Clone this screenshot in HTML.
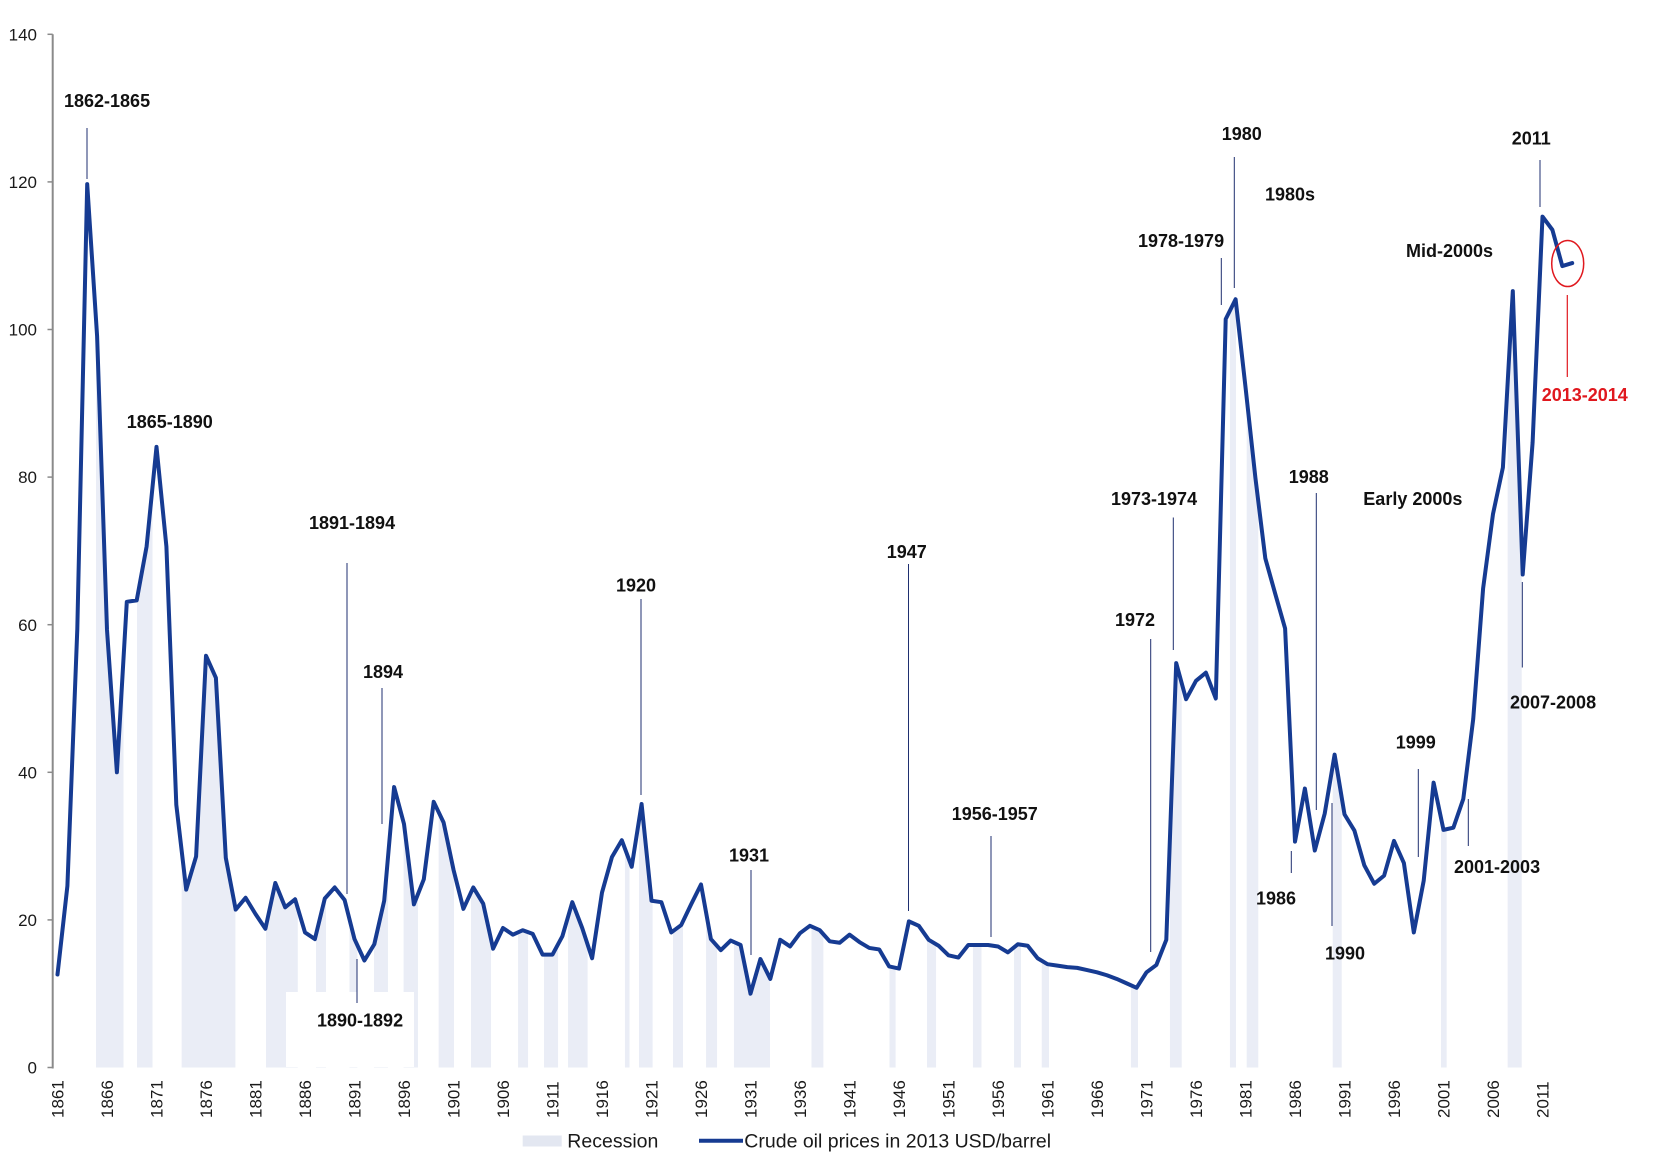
<!DOCTYPE html>
<html>
<head>
<meta charset="utf-8">
<style>
html,body{margin:0;padding:0;background:#fff;}
svg{display:block;}
text{font-family:"Liberation Sans",Arial,sans-serif;}
.ann{font-size:18px;font-weight:bold;fill:#111;}
.tk{font-size:17px;fill:#1a1a1a;}
.lg{font-size:19.5px;fill:#1a1a1a;}
.ld{stroke:#1f2f70;stroke-width:1;}
</style>
</head>
<body>
<svg width="1653" height="1162" viewBox="0 0 1653 1162" xmlns="http://www.w3.org/2000/svg">
<rect x="0" y="0" width="1653" height="1162" fill="#fff"/>

<g transform="translate(57.5,1067.5) scale(9.9,-7.38)">
<defs>
<clipPath id="area" clipPathUnits="userSpaceOnUse">
<polygon points="0,0 0,12.6 1,24.6 2,59.4 3,119.7 4,99.1 5,59.3 6,40.0 7,63.1 8,63.3 9,70.6 10,84.1 11,70.6 12,35.6 13,24.1 14,28.6 15,55.8 16,52.8 17,28.4 18,21.4 19,23.0 20,20.8 21,18.8 22,25.0 23,21.7 24,22.8 25,18.3 26,17.4 27,22.9 28,24.4 29,22.7 30,17.4 31,14.5 32,16.7 33,22.6 34,38.0 35,33.0 36,22.1 37,25.5 38,36.0 39,33.2 40,26.8 41,21.5 42,24.4 43,22.2 44,16.1 45,18.9 46,18.0 47,18.6 48,18.1 49,15.3 50,15.3 51,17.8 52,22.4 53,18.9 54,14.8 55,23.7 56,28.5 57,30.8 58,27.2 59,35.7 60,22.6 61,22.4 62,18.3 63,19.3 64,22.1 65,24.8 66,17.4 67,15.9 68,17.2 69,16.6 70,10.0 71,14.7 72,12.0 73,17.3 74,16.4 75,18.2 76,19.2 77,18.6 78,17.1 79,16.9 80,18.0 81,17.0 82,16.2 83,16.0 84,13.7 85,13.4 86,19.8 87,19.2 88,17.3 89,16.5 90,15.2 91,14.9 92,16.6 93,16.6 94,16.6 95,16.4 96,15.6 97,16.7 98,16.5 99,14.8 100,14.0 101,13.8 102,13.6 103,13.5 104,13.2 105,12.9 106,12.5 107,12.0 108,11.4 109,10.8 110,12.9 111,13.9 112,17.3 113,54.8 114,49.9 115,52.4 116,53.5 117,50.0 118,101.4 119,104.1 120,92.2 121,79.9 122,69.0 123,64.2 124,59.5 125,30.6 126,37.8 127,29.4 128,34.4 129,42.4 130,34.3 131,32.1 132,27.4 133,24.9 134,26.0 135,30.7 136,27.7 137,18.3 138,25.3 139,38.6 140,32.2 141,32.5 142,36.4 143,47.2 144,64.9 145,75.0 146,81.3 147,105.2 148,66.8 149,84.7 150,115.3 151,113.5 152,108.6 153,109.0 153,0"/>
</clipPath>
</defs>
<g clip-path="url(#area)" fill="#eaedf6">
<rect x="3.89" y="0" width="2.78" height="140"/>
<rect x="8.03" y="0" width="1.57" height="140"/>
<rect x="12.54" y="0" width="5.43" height="140"/>
<rect x="21.06" y="0" width="3.21" height="140"/>
<rect x="26.11" y="0" width="1.01" height="140"/>
<rect x="29.49" y="0" width="0.80" height="140"/>
<rect x="31.97" y="0" width="1.41" height="140"/>
<rect x="34.96" y="0" width="1.45" height="140"/>
<rect x="38.5" y="0" width="1.55" height="140"/>
<rect x="41.77" y="0" width="2.02" height="140"/>
<rect x="46.52" y="0" width="1.01" height="140"/>
<rect x="49.14" y="0" width="1.42" height="140"/>
<rect x="51.57" y="0" width="1.98" height="140"/>
<rect x="57.32" y="0" width="0.46" height="140"/>
<rect x="58.74" y="0" width="1.37" height="140"/>
<rect x="62.17" y="0" width="1.01" height="140"/>
<rect x="65.51" y="0" width="1.11" height="140"/>
<rect x="68.33" y="0" width="3.64" height="140"/>
<rect x="76.16" y="0" width="1.2" height="140"/>
<rect x="84.04" y="0" width="0.62" height="140"/>
<rect x="87.83" y="0" width="0.91" height="140"/>
<rect x="92.47" y="0" width="0.86" height="140"/>
<rect x="96.62" y="0" width="0.7" height="140"/>
<rect x="99.42" y="0" width="0.73" height="140"/>
<rect x="108.43" y="0" width="0.71" height="140"/>
<rect x="112.37" y="0" width="1.19" height="140"/>
<rect x="118.43" y="0" width="0.61" height="140"/>
<rect x="120.12" y="0" width="1.17" height="140"/>
<rect x="128.81" y="0" width="0.91" height="140"/>
<rect x="139.75" y="0" width="0.57" height="140"/>
<rect x="146.48" y="0" width="1.42" height="140"/>
</g>
</g>

<!-- white mask box near 1890-1892 label -->
<rect x="286" y="992" width="128" height="75" fill="#fff"/>

<!-- y axis -->
<line x1="52.7" y1="34.3" x2="52.7" y2="1068.5" stroke="#8a8a8a" stroke-width="2"/>
<g stroke="#8a8a8a" stroke-width="1.5">
<line x1="47.5" y1="1067.5" x2="52.7" y2="1067.5"/>
<line x1="47.5" y1="919.9" x2="52.7" y2="919.9"/>
<line x1="47.5" y1="772.3" x2="52.7" y2="772.3"/>
<line x1="47.5" y1="624.7" x2="52.7" y2="624.7"/>
<line x1="47.5" y1="477.1" x2="52.7" y2="477.1"/>
<line x1="47.5" y1="329.5" x2="52.7" y2="329.5"/>
<line x1="47.5" y1="181.9" x2="52.7" y2="181.9"/>
<line x1="47.5" y1="34.3" x2="52.7" y2="34.3"/>
</g>
<g class="tk" text-anchor="end">
<text x="37" y="1073.6">0</text>
<text x="37" y="926">20</text>
<text x="37" y="778.4">40</text>
<text x="37" y="630.8">60</text>
<text x="37" y="483.2">80</text>
<text x="37" y="335.6">100</text>
<text x="37" y="188">120</text>
<text x="37" y="40.4">140</text>
</g>

<!-- x tick labels -->
<g class="tk">
<text transform="translate(63.5,1118) rotate(-90)">1861</text>
<text transform="translate(113,1118) rotate(-90)">1866</text>
<text transform="translate(162.5,1118) rotate(-90)">1871</text>
<text transform="translate(212,1118) rotate(-90)">1876</text>
<text transform="translate(261.5,1118) rotate(-90)">1881</text>
<text transform="translate(311,1118) rotate(-90)">1886</text>
<text transform="translate(360.5,1118) rotate(-90)">1891</text>
<text transform="translate(410,1118) rotate(-90)">1896</text>
<text transform="translate(459.5,1118) rotate(-90)">1901</text>
<text transform="translate(509,1118) rotate(-90)">1906</text>
<text transform="translate(558.5,1118) rotate(-90)">1911</text>
<text transform="translate(608,1118) rotate(-90)">1916</text>
<text transform="translate(657.5,1118) rotate(-90)">1921</text>
<text transform="translate(707,1118) rotate(-90)">1926</text>
<text transform="translate(756.5,1118) rotate(-90)">1931</text>
<text transform="translate(806,1118) rotate(-90)">1936</text>
<text transform="translate(855.5,1118) rotate(-90)">1941</text>
<text transform="translate(905,1118) rotate(-90)">1946</text>
<text transform="translate(954.5,1118) rotate(-90)">1951</text>
<text transform="translate(1004,1118) rotate(-90)">1956</text>
<text transform="translate(1053.5,1118) rotate(-90)">1961</text>
<text transform="translate(1103,1118) rotate(-90)">1966</text>
<text transform="translate(1152.5,1118) rotate(-90)">1971</text>
<text transform="translate(1202,1118) rotate(-90)">1976</text>
<text transform="translate(1251.5,1118) rotate(-90)">1981</text>
<text transform="translate(1301,1118) rotate(-90)">1986</text>
<text transform="translate(1350.5,1118) rotate(-90)">1991</text>
<text transform="translate(1400,1118) rotate(-90)">1996</text>
<text transform="translate(1449.5,1118) rotate(-90)">2001</text>
<text transform="translate(1499,1118) rotate(-90)">2006</text>
<text transform="translate(1548.5,1118) rotate(-90)">2011</text>
</g>

<!-- leader lines -->
<g class="ld">
<line x1="87" y1="128" x2="87" y2="179"/>
<line x1="347" y1="563" x2="347" y2="894"/>
<line x1="382" y1="688" x2="382" y2="824"/>
<line x1="357" y1="959" x2="357" y2="1003"/>
<line x1="641" y1="599" x2="641" y2="795"/>
<line x1="751" y1="870" x2="751" y2="955"/>
<line x1="908.5" y1="564" x2="908.5" y2="911"/>
<line x1="991" y1="836" x2="991" y2="937"/>
<line x1="1150.7" y1="639" x2="1150.7" y2="952"/>
<line x1="1173.3" y1="517.5" x2="1173.3" y2="650"/>
<line x1="1221.3" y1="258" x2="1221.3" y2="305"/>
<line x1="1234.3" y1="157" x2="1234.3" y2="288"/>
<line x1="1316.3" y1="493" x2="1316.3" y2="810"/>
<line x1="1291.3" y1="851" x2="1291.3" y2="873"/>
<line x1="1332" y1="803" x2="1332" y2="926"/>
<line x1="1418.3" y1="769" x2="1418.3" y2="857"/>
<line x1="1468.3" y1="799" x2="1468.3" y2="846"/>
<line x1="1522.3" y1="582" x2="1522.3" y2="667.5"/>
<line x1="1540" y1="160" x2="1540" y2="207"/>
</g>
<line x1="1567.3" y1="295" x2="1567.3" y2="377" stroke="#e0181e" stroke-width="1.2"/>

<!-- price line -->
<g transform="translate(57.5,1067.5) scale(9.9,-7.38)">
<polyline fill="none" stroke="#163b92" stroke-width="4" stroke-linejoin="round" stroke-linecap="round" vector-effect="non-scaling-stroke" points="0,12.6 1,24.6 2,59.4 3,119.7 4,99.1 5,59.3 6,40.0 7,63.1 8,63.3 9,70.6 10,84.1 11,70.6 12,35.6 13,24.1 14,28.6 15,55.8 16,52.8 17,28.4 18,21.4 19,23.0 20,20.8 21,18.8 22,25.0 23,21.7 24,22.8 25,18.3 26,17.4 27,22.9 28,24.4 29,22.7 30,17.4 31,14.5 32,16.7 33,22.6 34,38.0 35,33.0 36,22.1 37,25.5 38,36.0 39,33.2 40,26.8 41,21.5 42,24.4 43,22.2 44,16.1 45,18.9 46,18.0 47,18.6 48,18.1 49,15.3 50,15.3 51,17.8 52,22.4 53,18.9 54,14.8 55,23.7 56,28.5 57,30.8 58,27.2 59,35.7 60,22.6 61,22.4 62,18.3 63,19.3 64,22.1 65,24.8 66,17.4 67,15.9 68,17.2 69,16.6 70,10.0 71,14.7 72,12.0 73,17.3 74,16.4 75,18.2 76,19.2 77,18.6 78,17.1 79,16.9 80,18.0 81,17.0 82,16.2 83,16.0 84,13.7 85,13.4 86,19.8 87,19.2 88,17.3 89,16.5 90,15.2 91,14.9 92,16.6 93,16.6 94,16.6 95,16.4 96,15.6 97,16.7 98,16.5 99,14.8 100,14.0 101,13.8 102,13.6 103,13.5 104,13.2 105,12.9 106,12.5 107,12.0 108,11.4 109,10.8 110,12.9 111,13.9 112,17.3 113,54.8 114,49.9 115,52.4 116,53.5 117,50.0 118,101.4 119,104.1 120,92.2 121,79.9 122,69.0 123,64.2 124,59.5 125,30.6 126,37.8 127,29.4 128,34.4 129,42.4 130,34.3 131,32.1 132,27.4 133,24.9 134,26.0 135,30.7 136,27.7 137,18.3 138,25.3 139,38.6 140,32.2 141,32.5 142,36.4 143,47.2 144,64.9 145,75.0 146,81.3 147,105.2 148,66.8 149,84.7 150,115.3 151,113.5 152,108.6 153,109.0"/>
</g>

<!-- red circle -->
<ellipse cx="1567.7" cy="263.5" rx="16" ry="23" fill="none" stroke="#e0181e" stroke-width="1.5"/>

<!-- annotations -->
<g class="ann">
<text x="64" y="107.2">1862-1865</text>
<text x="126.7" y="428.2">1865-1890</text>
<text x="309" y="529.2">1891-1894</text>
<text x="363" y="678.2">1894</text>
<text x="317" y="1026.5">1890-1892</text>
<text x="616" y="591.5">1920</text>
<text x="729" y="861.5">1931</text>
<text x="886.7" y="558.2">1947</text>
<text x="951.7" y="819.8">1956-1957</text>
<text x="1115" y="625.8">1972</text>
<text x="1111" y="505.1">1973-1974</text>
<text x="1138" y="247.2">1978-1979</text>
<text x="1221.7" y="139.8">1980</text>
<text x="1265" y="200.5">1980s</text>
<text x="1288.7" y="482.9">1988</text>
<text x="1363.3" y="505.1">Early 2000s</text>
<text x="1406" y="257.2">Mid-2000s</text>
<text x="1511.7" y="144.5">2011</text>
<text x="1510" y="708.5">2007-2008</text>
<text x="1395.7" y="748.3">1999</text>
<text x="1454" y="872.9">2001-2003</text>
<text x="1256" y="904.4">1986</text>
<text x="1325" y="959.5">1990</text>
<text x="1541.7" y="401.2" style="fill:#e0181e">2013-2014</text>
</g>

<!-- legend -->
<rect x="522.7" y="1135.5" width="39" height="11" fill="#e3e7f1"/>
<text class="lg" x="567.3" y="1147.5">Recession</text>
<line x1="699" y1="1140.7" x2="743" y2="1140.7" stroke="#163b92" stroke-width="4"/>
<text class="lg" x="744.3" y="1147.5">Crude oil prices in 2013 USD/barrel</text>
</svg>
</body>
</html>
